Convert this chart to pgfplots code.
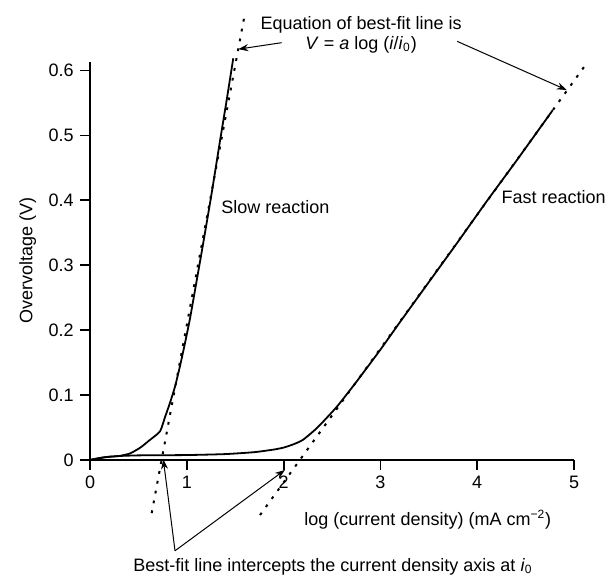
\documentclass[border=0pt]{standalone}
\usepackage{fontspec}
\setmainfont{Liberation Sans}
\usepackage{pgfplots}
\pgfplotsset{compat=1.18}
\usetikzlibrary{arrows.meta}
\begin{document}
\fontsize{9}{11}\selectfont
\begin{tikzpicture}
\begin{axis}[
  scale only axis, width=242pt, height=199.2pt,
  xmin=0, xmax=5, ymin=0, ymax=0.614,
  axis x line*=bottom, axis y line*=left,
  axis line style={line width=0.9pt},
  tick align=outside, major tick length=5pt,
  tick style={line width=0.9pt, black},
  xtick={0,1,2,3,4,5}, ytick={0,0.1,0.2,0.3,0.4,0.5,0.6},
  yticklabel style={/pgf/number format/fixed, /pgf/number format/precision=1},
  /pgf/number format/assume math mode=true,
  xlabel={log (current density) (mA cm\textsuperscript{−2})},
  xlabel style={at={(axis description cs:0.698,-0.15)}, anchor=center},
  ylabel={Overvoltage (V)},
  clip=false,
]
% slow reaction
\addplot[black, line width=0.9pt, smooth, tension=0.35] coordinates {
  (0,0) (0.1,0.003) (0.2,0.005) (0.3,0.006) (0.413,0.010) (0.52,0.019)
  (0.62,0.031) (0.723,0.044) (0.775,0.066) (0.826,0.088) (0.878,0.113)
  (0.93,0.145) (0.981,0.18) (1.033,0.218) (1.085,0.262) (1.16,0.326)
  (1.25,0.405) (1.34,0.489) (1.41,0.553) (1.48,0.619)
};
% fast reaction
\addplot[black, line width=0.9pt, smooth, tension=0.35] coordinates {
  (0,0) (0.15,0.004) (0.3,0.006) (0.5,0.007) (1.0,0.0075) (1.4,0.009)
  (1.7,0.012) (1.9,0.016) (2.0,0.019) (2.1,0.024) (2.2,0.031)
  (2.35,0.05) (2.55,0.082) (2.75,0.12) (3.0,0.17) (3.2,0.212)
  (3.5,0.274) (3.8,0.336) (4.1,0.399) (4.4,0.46) (4.78,0.539)
};
% best-fit lines
\addplot[black, line width=1pt, dash pattern=on 1.4pt off 3.6pt] coordinates {(0.637,-0.082) (1.6,0.688)};
\addplot[black, line width=1pt, dash pattern=on 1.4pt off 3.6pt] coordinates {(1.756,-0.085) (5.12,0.609)};

\node[anchor=west] at (axis cs:1.291,0.390) {Slow reaction};
\node[anchor=east, inner sep=0pt] at (axis cs:5.33,0.405) {Fast reaction};
\node[align=center] at (axis cs:2.80,0.655) {Equation of best-fit line is\\[-1pt]
  \textit{V} = \textit{a} log (\textit{i}/\textit{i}\textsubscript{0})};
\node at (axis cs:2.51,-0.1644) {Best-fit line intercepts the current density axis at \textit{i}\textsubscript{0}};

\draw[line width=0.5pt, -{Stealth[length=5pt,width=3.5pt]}] (axis cs:1.979,0.643) -- (axis cs:1.532,0.633);
\draw[line width=0.5pt, -{Stealth[length=5pt,width=3.5pt]}] (axis cs:3.794,0.645) -- (axis cs:4.925,0.570);
\draw[line width=0.5pt, -{Stealth[length=5pt,width=3.5pt]}] (axis cs:0.878,-0.140) -- (axis cs:0.757,0.001);
\draw[line width=0.5pt, -{Stealth[length=5pt,width=3.5pt]}] (axis cs:0.878,-0.140) -- (axis cs:2.014,-0.0154);

\coordinate (bbsw) at (axis cs:-0.930,-0.1772);
\coordinate (bbne) at (axis cs:5.351,0.7088);
\end{axis}
\pgfresetboundingbox
\useasboundingbox (bbsw) rectangle (bbne);
\end{tikzpicture}
\end{document}
